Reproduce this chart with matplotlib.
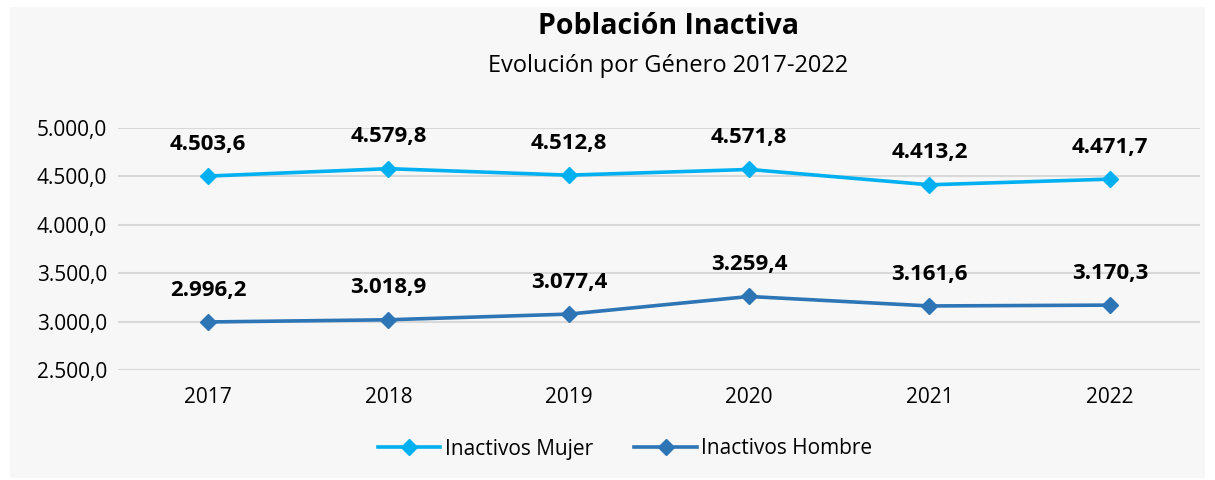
import matplotlib.pyplot as plt
from matplotlib.patches import Rectangle

years = ['2017', '2018', '2019', '2020', '2021', '2022']
mujer = [4503.6, 4579.8, 4512.8, 4571.8, 4413.2, 4471.7]
hombre = [2996.2, 3018.9, 3077.4, 3259.4, 3161.6, 3170.3]
yticks = [2500, 3000, 3500, 4000, 4500, 5000]


def fmt(v):
    s = '{:,.1f}'.format(v)
    return s.replace(',', 'X').replace('.', ',').replace('X', '.')


plt.rcParams['font.family'] = ['Open Sans', 'DejaVu Sans']

fig = plt.figure(figsize=(12.15, 4.8), dpi=100)
fig.patch.set_facecolor('white')
fig.patches.append(Rectangle((10 / 1215, 2 / 480), 1195 / 1215, 471 / 480,
                             transform=fig.transFigure, facecolor='#F7F7F7',
                             edgecolor='none', zorder=-10))

ax = fig.add_axes([118 / 1215, 1 - 370 / 480, 1082 / 1215, 242 / 480])
ax.set_facecolor('none')
ax.set_zorder(2)

x = range(len(years))
ax.plot(x, mujer, color='#00B0F0', lw=2.6, marker='D', ms=8, label='Inactivos Mujer', zorder=3)
ax.plot(x, hombre, color='#2E75B6', lw=2.6, marker='D', ms=8, label='Inactivos Hombre', zorder=3)

for i in x:
    ax.annotate(fmt(mujer[i]), (i, mujer[i]), xytext=(0, 23), textcoords='offset points',
                ha='center', va='center', fontsize=16, fontweight='bold', color='black')
    ax.annotate(fmt(hombre[i]), (i, hombre[i]), xytext=(0, 23), textcoords='offset points',
                ha='center', va='center', fontsize=16, fontweight='bold', color='black')

ax.set_xlim(-0.5, len(years) - 0.5)
ax.set_ylim(2500, 5000)
ax.set_yticks(yticks)
ax.set_yticklabels([fmt(v) for v in yticks], fontsize=15)
ax.set_xticks(list(x))
ax.set_xticklabels(years, fontsize=15)
ax.tick_params(length=0, pad=12)
ax.tick_params(axis='y', pad=8)
ax.grid(axis='y', color='#D9D9D9', lw=1.5)
ax.set_axisbelow(True)
for s in ax.spines.values():
    s.set_visible(False)

fig.text(668 / 1215, 1 - 27 / 480, 'Población Inactiva', ha='center', va='center',
         fontsize=20.5, fontweight='bold')
fig.text(668 / 1215, 1 - 66 / 480, 'Evolución por Género 2017-2022', ha='center', va='center',
         fontsize=17)

fig.legend(loc='center', bbox_to_anchor=(625 / 1215, 1 - 449 / 480), ncol=2,
           frameon=False, fontsize=15, handlelength=3, columnspacing=2, handletextpad=0.2)

fig.savefig('out.png', dpi=100, facecolor=fig.get_facecolor())
